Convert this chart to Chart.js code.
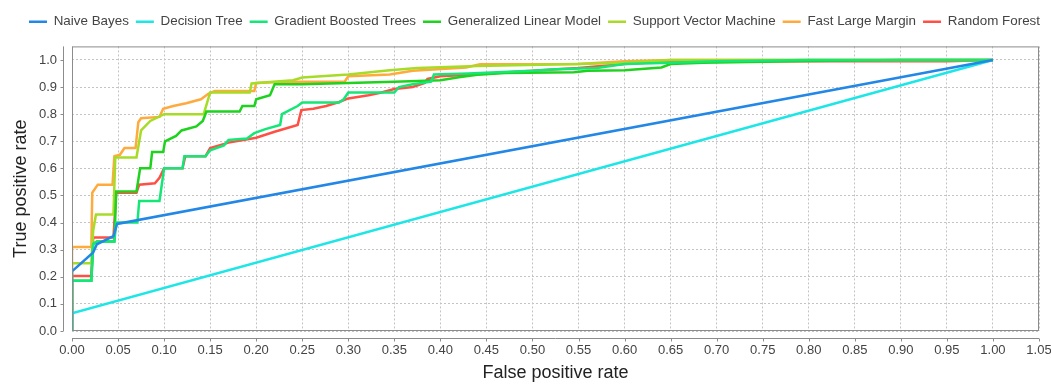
<!DOCTYPE html>
<html lang="en">
<head>
    <meta charset="UTF-8">
    <title>ROC curves</title>
    <script src="https://cdn.jsdelivr.net/npm/chart.js"></script>
    <style>
        body { margin: 0; background: #fff; }
        #wrap { width: 1051px; height: 385px; }
    </style>
</head>
<body>
<div id="wrap"><canvas id="rocChart"></canvas></div>
<script>
    // x = false positive rate, y = true positive rate
    const naiveBayesX   = [0, 0, 0.023, 0.027, 0.045, 0.049, 1];
    const naiveBayesY   = [0, 0.22, 0.29, 0.32, 0.35, 0.395, 1];

    const decisionTreeX = [0, 0, 1];
    const decisionTreeY = [0, 0.065, 1];

    const gbtX = [0, 0, 0.021, 0.023, 0.027, 0.046, 0.048, 0.071, 0.073, 0.095, 0.1, 0.12, 0.122, 0.145, 0.15, 0.165, 0.17, 0.19, 0.198, 0.21, 0.226, 0.228, 0.245, 0.25, 0.29, 0.295, 0.3, 0.35, 0.355, 0.37, 0.39, 0.393, 0.43, 0.5, 0.525, 0.57, 0.6, 0.65, 0.7, 0.8, 1];
    const gbtY = [0, 0.185, 0.185, 0.32, 0.33, 0.33, 0.4, 0.4, 0.48, 0.48, 0.6, 0.6, 0.645, 0.645, 0.667, 0.685, 0.705, 0.71, 0.73, 0.745, 0.76, 0.8, 0.83, 0.843, 0.843, 0.855, 0.88, 0.88, 0.9, 0.91, 0.92, 0.946, 0.95, 0.96, 0.966, 0.97, 0.985, 0.99, 0.995, 1, 1];

    const glmX = [0, 0, 0.021, 0.023, 0.027, 0.046, 0.048, 0.07, 0.074, 0.085, 0.087, 0.099, 0.101, 0.113, 0.119, 0.135, 0.142, 0.146, 0.182, 0.185, 0.198, 0.2, 0.215, 0.22, 0.25, 0.3, 0.35, 0.4, 0.42, 0.44, 0.47, 0.545, 0.56, 0.6, 0.64, 0.65, 0.685, 0.8, 0.9, 1];
    const glmY = [0, 0.185, 0.185, 0.32, 0.33, 0.33, 0.515, 0.515, 0.6, 0.6, 0.66, 0.66, 0.7, 0.72, 0.74, 0.755, 0.775, 0.81, 0.81, 0.83, 0.83, 0.855, 0.87, 0.91, 0.91, 0.915, 0.92, 0.925, 0.936, 0.945, 0.952, 0.955, 0.96, 0.962, 0.972, 0.985, 0.99, 0.996, 1, 1];

    const svmX = [0, 0, 0.021, 0.023, 0.026, 0.045, 0.047, 0.07, 0.075, 0.085, 0.1, 0.143, 0.15, 0.193, 0.195, 0.24, 0.25, 0.3, 0.345, 0.375, 0.44, 0.55, 0.6, 0.65, 1];
    const svmY = [0, 0.25, 0.25, 0.37, 0.43, 0.43, 0.64, 0.64, 0.74, 0.775, 0.8, 0.8, 0.88, 0.88, 0.913, 0.925, 0.935, 0.946, 0.962, 0.97, 0.978, 0.985, 0.99, 1, 1];

    const flmX = [0, 0, 0.021, 0.022, 0.028, 0.044, 0.046, 0.052, 0.057, 0.069, 0.072, 0.075, 0.095, 0.099, 0.11, 0.124, 0.14, 0.148, 0.155, 0.198, 0.2, 0.23, 0.25, 0.296, 0.3, 0.345, 0.37, 0.428, 0.443, 0.55, 0.6, 0.65, 1];
    const flmY = [0, 0.31, 0.31, 0.51, 0.54, 0.54, 0.645, 0.65, 0.675, 0.675, 0.77, 0.785, 0.79, 0.82, 0.83, 0.84, 0.855, 0.875, 0.885, 0.885, 0.915, 0.92, 0.92, 0.92, 0.94, 0.946, 0.96, 0.972, 0.984, 0.985, 0.995, 1, 1];

    const rfX = [0, 0, 0.021, 0.023, 0.045, 0.048, 0.07, 0.073, 0.09, 0.095, 0.1, 0.12, 0.123, 0.145, 0.15, 0.17, 0.2, 0.22, 0.245, 0.249, 0.262, 0.276, 0.29, 0.3, 0.322, 0.336, 0.35, 0.37, 0.383, 0.386, 0.4, 0.43, 0.5, 0.55, 0.6, 0.65, 0.95, 1];
    const rfY = [0, 0.203, 0.203, 0.345, 0.345, 0.51, 0.51, 0.54, 0.545, 0.565, 0.6, 0.6, 0.645, 0.645, 0.675, 0.695, 0.713, 0.735, 0.76, 0.815, 0.82, 0.83, 0.845, 0.858, 0.87, 0.88, 0.893, 0.9, 0.915, 0.93, 0.94, 0.945, 0.96, 0.97, 0.985, 0.995, 0.995, 1];

    const seriesNames  = ['Naive Bayes', 'Decision Tree', 'Gradient Boosted Trees', 'Generalized Linear Model', 'Support Vector Machine', 'Fast Large Margin', 'Random Forest'];
    const seriesColors = ['#2287e6', '#1ee6e6', '#14e678', '#1ed21e', '#a6dc28', '#ffaa3c', '#ff5046'];
    const seriesX = [naiveBayesX, decisionTreeX, gbtX, glmX, svmX, flmX, rfX];
    const seriesY = [naiveBayesY, decisionTreeY, gbtY, glmY, svmY, flmY, rfY];

    const xTicks = [0, 0.05, 0.1, 0.15, 0.2, 0.25, 0.3, 0.35, 0.4, 0.45, 0.5, 0.55, 0.6, 0.65, 0.7, 0.75, 0.8, 0.85, 0.9, 0.95, 1, 1.05];
    const yTicks = [0, 0.1, 0.2, 0.3, 0.4, 0.5, 0.6, 0.7, 0.8, 0.9, 1];

    const toPoints = (xs, ys) => xs.map((x, i) => ({ x: x, y: ys[i] }));

    // frame round the plot plus the detached axis lines of the original
    const framePlugin = {
        id: 'framePlugin',
        afterInit(chart) {
            // leave a gap between the legend and the plot
            const legendFit = chart.legend.fit;
            chart.legend.fit = function() {
                legendFit.call(this);
                this.height += 8;
            };
        },
        afterLayout(chart) {
            // the original legend sits a little right of centre
            chart.legend.left += 15;
            chart.legend.right += 15;
        },
        afterDraw(chart) {
            const ctx = chart.ctx;
            const a = chart.chartArea;
            const xs = chart.scales.x;
            const ys = chart.scales.y;
            ctx.save();
            ctx.strokeStyle = '#8c8c8c';
            ctx.lineWidth = 1;
            ctx.strokeRect(a.left + 0.5, a.top + 0.5, a.right - a.left - 1, a.bottom - a.top - 1);

            const axX = a.left - 8.5;
            const axY = a.bottom + 7.5;
            ctx.beginPath();
            ctx.moveTo(axX, a.top);
            ctx.lineTo(axX, a.bottom);
            ys.ticks.forEach(t => {
                const py = Math.round(ys.getPixelForValue(t.value)) + 0.5;
                ctx.moveTo(axX - 3, py);
                ctx.lineTo(axX, py);
            });
            ctx.moveTo(a.left, axY);
            ctx.lineTo(a.right, axY);
            xs.ticks.forEach(t => {
                const px = Math.round(xs.getPixelForValue(t.value)) + 0.5;
                ctx.moveTo(px, axY);
                ctx.lineTo(px, axY + 3);
            });
            ctx.stroke();
            ctx.restore();
        }
    };

    new Chart(document.getElementById('rocChart').getContext('2d'), {
        type: 'line',
        data: {
            datasets: seriesNames.map((name, i) => ({
                label: name,
                data: toPoints(seriesX[i], seriesY[i]),
                borderColor: seriesColors[i],
                backgroundColor: seriesColors[i],
                borderWidth: 2.5,
                pointRadius: 0,
                tension: 0,
                fill: false
            }))
        },
        options: {
            responsive: true,
            maintainAspectRatio: false,
            animation: false,
            layout: { padding: { top: 8, left: 0, right: 12, bottom: 0 } },
            scales: {
                x: {
                    type: 'linear',
                    min: 0,
                    max: 1.05,
                    afterBuildTicks: scale => { scale.ticks = xTicks.map(v => ({ value: v })); },
                    afterFit: scale => {
                        scale.height = 54;
                        scale.paddingLeft = 0;
                        scale.paddingRight = 0;
                    },
                    ticks: {
                        padding: 12,
                        color: '#444',
                        font: { family: 'Liberation Sans', size: 13 },
                        callback: v => v.toFixed(2),
                        maxRotation: 0,
                        autoSkip: false
                    },
                    grid: { color: '#c4c4c4', drawTicks: false },
                    border: { display: false, dash: [2, 2] },
                    title: {
                        display: true,
                        text: 'False positive rate',
                        color: '#222',
                        font: { family: 'Liberation Sans', size: 18 },
                        padding: { top: 0, bottom: 1 }
                    }
                },
                y: {
                    type: 'linear',
                    min: 0,
                    max: 1.05,
                    afterBuildTicks: scale => { scale.ticks = yTicks.map(v => ({ value: v })); },
                    afterFit: scale => {
                        scale.width = 72;
                        scale.paddingTop = 0;
                        scale.paddingBottom = 0;
                    },
                    ticks: {
                        padding: 15,
                        color: '#444',
                        font: { family: 'Liberation Sans', size: 13 },
                        callback: v => v.toFixed(1)
                    },
                    grid: { color: '#c4c4c4', drawTicks: false },
                    border: { display: false, dash: [2, 2] },
                    title: {
                        display: true,
                        text: 'True positive rate',
                        color: '#222',
                        font: { family: 'Liberation Sans', size: 18 },
                        padding: { top: 10, bottom: 0 }
                    }
                }
            },
            plugins: {
                legend: {
                    position: 'top',
                    labels: {
                        color: '#444',
                        font: { family: 'Liberation Sans', size: 13.4 },
                        usePointStyle: true,
                        pointStyle: 'line',
                        pointStyleWidth: 18,
                        boxHeight: 13,
                        padding: 7
                    }
                },
                tooltip: { enabled: false }
            }
        },
        plugins: [framePlugin]
    });
</script>
</body>
</html>
